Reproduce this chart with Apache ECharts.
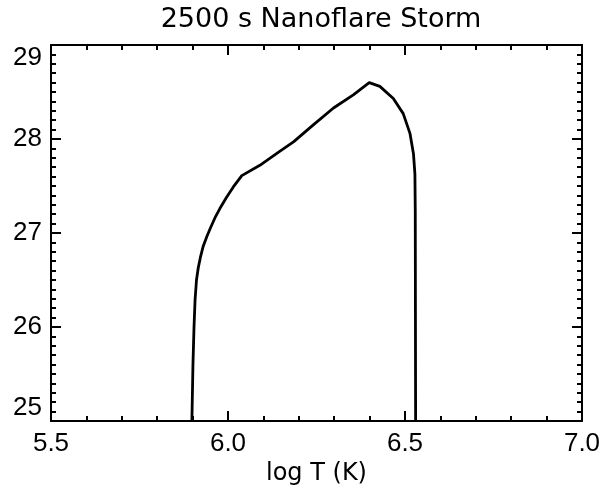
<!DOCTYPE html>
<html>
<head>
<meta charset="utf-8">
<script src="https://cdn.jsdelivr.net/npm/echarts@6/dist/echarts.min.js"></script>
<style>
  html, body { margin: 0; padding: 0; background: #fff; }
  #chart { width: 600px; height: 495px; }
</style>
</head>
<body>
<div id="chart"></div>
<script>
// Emission measure distribution: log T (K) vs log EM
const logT = [5.898, 5.901, 5.904, 5.907, 5.911, 5.916, 5.922, 5.930, 5.940, 5.950,
              5.963, 5.977, 5.996, 6.015, 6.039, 6.090, 6.147, 6.185, 6.241, 6.298,
              6.354, 6.399, 6.429, 6.467, 6.495, 6.514, 6.524, 6.528, 6.529, 6.530];
const logEM = [25.00, 25.60, 26.00, 26.29, 26.50, 26.63, 26.74, 26.86, 26.96, 27.05,
               27.16, 27.26, 27.38, 27.49, 27.61, 27.72, 27.87, 27.97, 28.15, 28.33,
               28.47, 28.60, 28.56, 28.43, 28.27, 28.06, 27.84, 27.63, 27.24, 25.00];
const xTicks = [5.5, 6.0, 6.5, 7.0];
const yTicks = [25, 26, 27, 28, 29];
const titleText = '2500 s Nanoflare Storm';
const xName = 'log T (K)';

const points = logT.map((t, i) => [t, logEM[i]]);

const chart = echarts.init(document.getElementById('chart'), null, { renderer: 'canvas' });

const frameLine = { show: true, onZero: false, lineStyle: { color: '#000', width: 2 } };
const majorTick = { show: true, inside: true, length: 10, lineStyle: { color: '#000', width: 2 } };

function minor(n) {
  return { show: true, splitNumber: n, length: 5, lineStyle: { color: '#000', width: 2 } };
}

chart.setOption({
  animation: false,
  backgroundColor: '#fff',
  title: {
    text: titleText,
    left: 316,
    top: 1,
    textAlign: 'center',
    textStyle: { fontFamily: 'DejaVu Sans', fontSize: 27, fontWeight: 'normal', color: '#000' }
  },
  grid: { left: 51, top: 45, width: 531, height: 376, containLabel: false, outerBoundsMode: 'none' },
  xAxis: [
    {
      type: 'value', position: 'bottom',
      min: xTicks[0], max: xTicks[xTicks.length - 1], interval: 0.5,
      axisLine: frameLine, axisTick: majorTick, minorTick: minor(5),
      splitLine: { show: false },
      axisLabel: {
        color: '#000', fontFamily: 'Liberation Sans', fontSize: 26, margin: 10,
        formatter: v => v.toFixed(1)
      },
      name: xName, nameLocation: 'middle', nameGap: 38,
      nameTextStyle: { fontFamily: 'DejaVu Sans', fontSize: 24, color: '#000' }
    },
    {
      type: 'value', position: 'top',
      min: xTicks[0], max: xTicks[xTicks.length - 1], interval: 0.5,
      axisLine: frameLine, axisTick: majorTick, minorTick: minor(5),
      splitLine: { show: false }, axisLabel: { show: false }
    }
  ],
  yAxis: [
    {
      type: 'value', position: 'left',
      min: yTicks[0], max: yTicks[yTicks.length - 1], interval: 1,
      axisLine: frameLine, axisTick: majorTick, minorTick: minor(10),
      splitLine: { show: false },
      axisLabel: {
        color: '#000', fontFamily: 'Liberation Sans', fontSize: 26, margin: 9,
        verticalAlignMaxLabel: 'top', verticalAlignMinLabel: 'bottom'
      }
    },
    {
      type: 'value', position: 'right',
      min: yTicks[0], max: yTicks[yTicks.length - 1], interval: 1,
      axisLine: frameLine, axisTick: majorTick, minorTick: minor(10),
      splitLine: { show: false }, axisLabel: { show: false }
    }
  ],
  series: [
    {
      type: 'line', xAxisIndex: 0, yAxisIndex: 0,
      data: points, symbol: 'none', smooth: false,
      lineStyle: { color: '#000', width: 2.8 }
    }
  ]
});
</script>
</body>
</html>
